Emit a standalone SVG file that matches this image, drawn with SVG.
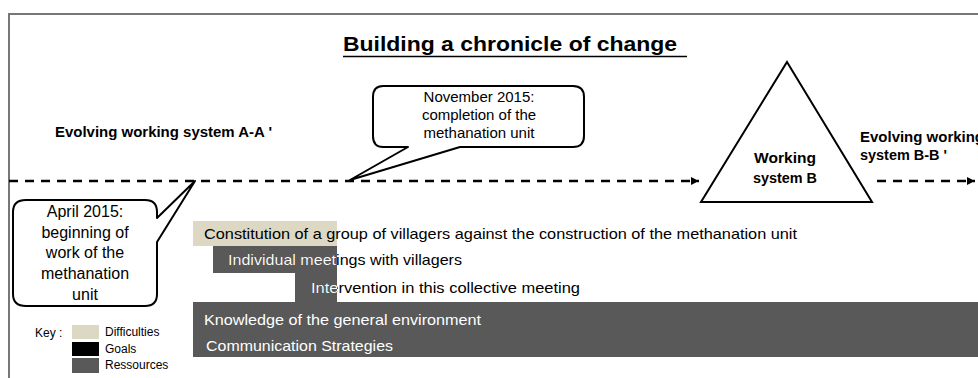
<svg xmlns="http://www.w3.org/2000/svg" width="978" height="378" viewBox="0 0 978 378">
<style>
text{font-family:"Liberation Sans",Arial,sans-serif;}
.t{font-size:15px;fill:#000;}
.b{font-size:14px;font-weight:bold;fill:#000;}
.w{font-size:15px;fill:#fff;}
.k{font-size:12px;fill:#000;}
.c{font-size:15px;fill:#000;text-anchor:middle;}
.callout{fill:#fff;stroke:#000;stroke-width:2;stroke-linejoin:round;}
.dash{stroke:#000;stroke-width:2.5;stroke-dasharray:9 7;fill:none;}
</style>
<defs>
<marker id="ah" markerWidth="8" markerHeight="8" refX="8" refY="4" orient="auto" markerUnits="userSpaceOnUse">
<path d="M0,0 L8,4 L0,8 Z" fill="#000"/>
</marker>
<clipPath id="clipInd"><rect x="213" y="246" width="124" height="27"/></clipPath>
<clipPath id="clipInt"><rect x="295" y="273" width="42" height="29"/></clipPath>
</defs>
<rect x="0" y="0" width="978" height="378" fill="#fff"/>
<g id="frame">
<path d="M9,378 L9,14 L978,14" fill="none" stroke="#777" stroke-width="2"/>
</g>
<g id="title">
<text x="343" y="51" style="font-size:20px;font-weight:bold" textLength="334" lengthAdjust="spacingAndGlyphs">Building a chronicle of change</text>
<line x1="343" y1="56.5" x2="687" y2="56.5" stroke="#000" stroke-width="1.6"/>
</g>
<g id="connectors">
<line class="dash" x1="9" y1="181" x2="699" y2="181" marker-end="url(#ah)"/>
<line class="dash" x1="877" y1="181" x2="975" y2="181" marker-end="url(#ah)"/>
</g>
<g id="labelA">
<text class="b" x="55" y="137" textLength="217" lengthAdjust="spacingAndGlyphs">Evolving working system A-A '</text>
</g>
<g id="labelB">
<text class="b" x="860" y="142" textLength="124" lengthAdjust="spacingAndGlyphs">Evolving working</text>
<text class="b" x="860" y="160" textLength="87" lengthAdjust="spacingAndGlyphs">system B-B '</text>
</g>
<g id="workingSystemB">
<polygon points="787,62 872,202 701,202" fill="#fff" stroke="#000" stroke-width="2"/>
<text class="b" x="785" y="163" text-anchor="middle" textLength="62" lengthAdjust="spacingAndGlyphs">Working</text>
<text class="b" x="785" y="183" text-anchor="middle" textLength="64" lengthAdjust="spacingAndGlyphs">system B</text>
</g>
<g id="calloutNov">
<path class="callout" d="M383,86 L573,86 Q584,86 584,97 L584,136 Q584,147 573,147 L460,147 L350,180 L408,147 L383,147 Q373,147 373,136 L373,97 Q373,86 383,86 Z"/>
<text class="c" x="479" y="102">November 2015:</text>
<text class="c" x="479" y="120">completion of the</text>
<text class="c" x="479" y="138">methanation unit</text>
</g>
<g id="calloutApr">
<path class="callout" d="M26,200 L145,200 Q157,200 157,212 L157,218 L195,181 L157,242 L157,294 Q157,306 145,306 L26,306 Q13,306 13,294 L13,212 Q13,200 26,200 Z"/>
<text class="c" x="85" y="217" style="font-size:16px">April 2015:</text>
<text class="c" x="85" y="238" style="font-size:16px">beginning of</text>
<text class="c" x="85" y="258" style="font-size:16px">work of the</text>
<text class="c" x="85" y="279" style="font-size:16px">methanation</text>
<text class="c" x="85" y="300" style="font-size:16px">unit</text>
</g>
<g id="barConstitution">
<rect x="193" y="221" width="144" height="25" fill="#ddd8c3"/>
<text class="t" x="204" y="239" textLength="593" lengthAdjust="spacingAndGlyphs">Constitution of a group of villagers against the construction of the methanation unit</text>
</g>
<g id="barIndividual">
<rect x="213" y="246" width="124" height="27" fill="#595959"/>
<text class="t" x="228" y="265" textLength="234" lengthAdjust="spacingAndGlyphs">Individual meetings with villagers</text>
<text class="w" x="228" y="265" textLength="234" lengthAdjust="spacingAndGlyphs" clip-path="url(#clipInd)">Individual meetings with villagers</text>
</g>
<g id="barIntervention">
<rect x="295" y="273" width="42" height="29" fill="#595959"/>
<text class="t" x="311" y="293" textLength="269" lengthAdjust="spacingAndGlyphs">Intervention in this collective meeting</text>
<text class="w" x="311" y="293" textLength="269" lengthAdjust="spacingAndGlyphs" clip-path="url(#clipInt)">Intervention in this collective meeting</text>
</g>
<g id="barResources">
<rect x="193" y="302" width="785" height="55" fill="#595959"/>
<text class="w" x="204" y="325" textLength="277" lengthAdjust="spacingAndGlyphs">Knowledge of the general environment</text>
<text class="w" x="206" y="351" textLength="187" lengthAdjust="spacingAndGlyphs">Communication Strategies</text>
</g>
<g id="key">
<text class="k" x="35" y="337">Key :</text>
<rect x="72" y="325" width="27" height="14" fill="#ddd8c3"/>
<rect x="72" y="342" width="27" height="14" fill="#000"/>
<rect x="72" y="358" width="27" height="15" fill="#595959"/>
<text class="k" x="105" y="336">Difficulties</text>
<text class="k" x="105" y="353">Goals</text>
<text class="k" x="105" y="369">Ressources</text>
</g>
</svg>
